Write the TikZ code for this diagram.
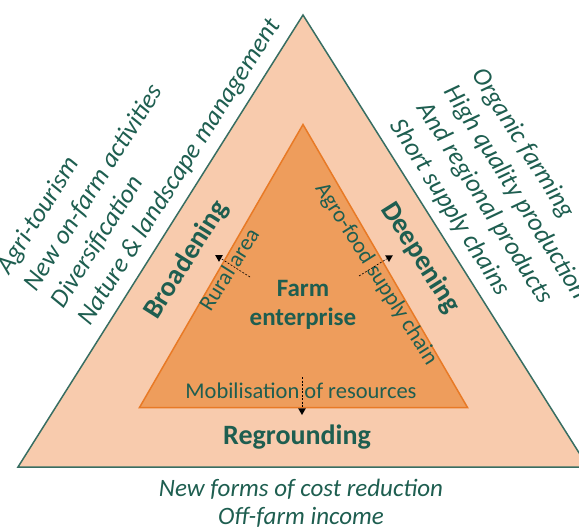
\documentclass[tikz,border=0pt]{standalone}
\usepackage{fontspec}
\setmainfont{Carlito}
\usetikzlibrary{shapes.geometric}
\usetikzlibrary{positioning}
\definecolor{peach}{RGB}{248,203,173}
\definecolor{edgegreen}{RGB}{56,110,98}
\definecolor{corefill}{RGB}{238,157,92}
\definecolor{coreedge}{RGB}{232,122,38}
\definecolor{txtgreen}{RGB}{30,94,80}
\tikzset{
    outertri/.style = {draw=edgegreen, fill=peach, line width=1.5pt, line join=miter},
    innertri/.style = {draw=coreedge, fill=corefill, line width=1.5pt},
    ideas/.style = {inner sep=0, align=left, text=txtgreen, font=\fontsize{26}{32}\selectfont\itshape},
    strat/.style = {inner sep=0, text=txtgreen, font=\fontsize{28}{33}\selectfont\bfseries},
    linkt/.style = {inner sep=0, text=txtgreen, font=\fontsize{22.5}{26}\selectfont},
    farmt/.style = {inner sep=0, align=center, text=txtgreen, font=\fontsize{25}{28.5}\selectfont\bfseries},
    cutline/.style = {draw=black, line width=0.6pt, dash pattern=on 2pt off 1.5pt},
    cuttip/.style = {regular polygon, regular polygon sides=3, shape border rotate=180, fill=black, inner sep=0, minimum size=9pt}
}

\begin{document}
\begin{tikzpicture}[x=1pt,y=-1pt]
\useasboundingbox (0,0) rectangle (579,530);
% triangles
\coordinate (ol) at (18,467);
\coordinate (ot) at (303,15);
\coordinate (or) at (588,467);
\coordinate (il) at (139.5,407.5);
\coordinate (it) at (303,124.5);
\coordinate (ir) at (467.5,407.5);
\draw[outertri] (ol) -- (ot) -- (or) -- cycle;
\draw[innertri] (il) -- (it) -- (ir) -- cycle;
%
\node[ideas, rotate=57.76, anchor=south west] at (94.5,329) (left) {Agri-tourism\\New on-farm activities\\Diversification\\Nature \& landscape management};
\node[ideas, rotate=-57.76, anchor=south west] at (386,128) (right) {Organic farming\\High quality production\\And regional products\\Short supply chains};
\node[ideas, align=center, anchor=base, font=\fontsize{25}{28}\selectfont\itshape] at (301,524) (below) {New forms of cost reduction\\Off-farm income};
%
\node[strat, rotate=57.76, anchor=base] at (193,264) (broad) {Broadening};
\node[strat, rotate=-57.76, anchor=base] at (414,262) (deep) {Deepening};
\node[strat, anchor=base] at (297,444) (reground) {Regrounding};
%
\node[farmt] at (303,305) (farm) {Farm\\enterprise};
\node[linkt, rotate=57.76, anchor=base] at (235.4,273.4) (rural) {Rural area};
\node[linkt, rotate=-57.76, anchor=base] at (371,277.4) (agro) {Agro-food supply chain};
\node[linkt, anchor=base] at (301,398) (mobil) {Mobilisation of resources};
%
\coordinate (rc) at (250,277);
\coordinate (ac) at (359,276);
\coordinate (mc) at (302,377);
\node[cuttip] at (219,257.3) (rt) {};
\node[cuttip] at (389,257.5) (at) {};
\node[cuttip] at (302,410.5) (mt) {};
\draw[cutline] (rc) -- (rt);
\draw[cutline] (ac) -- (at);
\draw[cutline] (mc) -- (mt);
\end{tikzpicture}
\end{document}
